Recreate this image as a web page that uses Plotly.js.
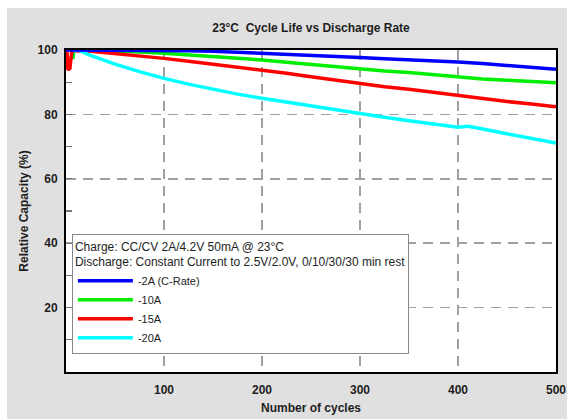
<!DOCTYPE html>
<html>
<head>
<meta charset="utf-8">
<script src="https://cdn.plot.ly/plotly-3.0.1.min.js"></script>
<style>
  html, body { margin: 0; padding: 0; background: #ffffff; }
  #chart { position: absolute; left: 7px; top: 8px; width: 560px; height: 411px; }
</style>
</head>
<body>
<div id="chart"></div>
<script>
// ---- data ----
const seriesNames = ["-2A (C-Rate)", "-10A", "-15A", "-20A"];
const seriesColors = ["#0000ff", "#00ee00", "#ff0000", "#00ffff"];

const cyclesBlue = [0, 25, 50, 75, 100, 125, 150, 175, 200, 225, 250, 275, 300, 325, 350, 375, 400, 425, 450, 475, 500];
const capBlue    = [100, 100, 100, 100, 99.9, 99.8, 99.6, 99.3, 99.1, 98.8, 98.5, 98.1, 97.7, 97.3, 97.0, 96.7, 96.3, 95.8, 95.2, 94.6, 94.0];

const cyclesGreen = [0, 6, 7, 8, 25, 50, 75, 100, 125, 150, 175, 200, 225, 250, 275, 300, 325, 350, 375, 400, 425, 450, 475, 500];
const capGreen    = [100, 100, 97.2, 100, 100, 99.8, 99.4, 99.0, 98.5, 98.0, 97.5, 96.9, 96.2, 95.5, 94.8, 94.1, 93.5, 93.0, 92.3, 91.5, 91.0, 90.6, 90.2, 89.8];

const cyclesRed = [1, 2, 4, 6, 25, 50, 75, 100, 125, 150, 175, 200, 225, 250, 275, 300, 325, 350, 375, 400, 425, 450, 475, 500];
const capRed    = [100, 93.8, 94.3, 99.8, 99.6, 98.9, 98.2, 97.4, 96.5, 95.6, 94.7, 93.8, 92.8, 91.7, 90.6, 89.5, 88.6, 87.8, 86.8, 85.8, 84.9, 84.0, 83.2, 82.4];

const cyclesCyan = [8, 12, 25, 50, 75, 100, 125, 150, 175, 200, 225, 250, 275, 300, 325, 350, 375, 400, 410, 420, 450, 475, 500];
const capCyan    = [99.6, 100, 98.3, 95.6, 93.3, 91.2, 89.4, 87.8, 86.3, 85.0, 83.8, 82.6, 81.3, 80.2, 79.1, 78.0, 77.0, 76.0, 76.3, 75.8, 74.0, 72.6, 71.1];

const xTickVals = [100, 200, 300, 400, 500];
const yLabelVals = [20, 40, 60, 80, 100];
const yAllTickVals = [10, 20, 30, 40, 50, 60, 70, 80, 90, 100];

const chartTitle = "23°C  Cycle Life vs Discharge Rate";
const xTitle = "Number of cycles";
const yTitle = "Relative Capacity (%)";
const legendHeader = "Charge: CC/CV 2A/4.2V 50mA @ 23°C<br>Discharge: Constant Current to 2.5V/2.0V, 0/10/30/30 min rest";

// ---- traces ----
const xs = [cyclesBlue, cyclesGreen, cyclesRed, cyclesCyan];
const ys = [capBlue, capGreen, capRed, capCyan];
const traces = xs.map((x, i) => ({
  type: "scatter",
  mode: "lines",
  x: x,
  y: ys[i],
  yaxis: i === 0 ? "y2" : "y",
  name: seriesNames[i],
  line: { color: seriesColors[i], width: 3.5 },
  hoverinfo: "skip"
}));

const FONT = "'Liberation Sans', Arial, sans-serif";
const TXT = "#1e1e1e";

const layout = {
  width: 560,
  height: 411,
  paper_bgcolor: "#e0e0e0",
  plot_bgcolor: "#ffffff",
  margin: { l: 59, r: 11, t: 42, b: 47, pad: 0 },
  font: { family: FONT, color: TXT, size: 12 },
  title: {
    text: "<b>" + chartTitle + "</b>",
    font: { family: FONT, size: 12, color: TXT },
    x: 0.5, xref: "paper", xanchor: "center",
    y: 1 - 20 / 411, yref: "container", yanchor: "middle"
  },
  xaxis: {
    range: [0, 500],
    tickvals: xTickVals,
    ticktext: xTickVals.map(v => "<b>" + v + "</b>"),
    ticks: "",
    ticklabelstandoff: 6,
    showgrid: true,
    gridcolor: "#a0a0a0",
    gridwidth: 1.5,
    griddash: "10px,7px",
    zeroline: false,
    showline: true,
    linecolor: "#000000",
    linewidth: 2,
    mirror: true,
    tickfont: { family: FONT, size: 12, color: TXT },
    title: { text: "<b>" + xTitle + "</b>", font: { family: FONT, size: 12, color: TXT }, standoff: 7 }
  },
  yaxis: {
    range: [0, 100],
    tickmode: "array",
    tickvals: yAllTickVals,
    ticktext: yAllTickVals.map(v => yLabelVals.includes(v) ? "<b>" + v + "</b>" : ""),
    ticks: "inside",
    ticklen: 6,
    tickwidth: 1.2,
    tickcolor: "#777777",
    ticklabelstandoff: 4,
    showgrid: false,
    zeroline: false,
    showline: true,
    linecolor: "#000000",
    linewidth: 2,
    mirror: true,
    tickfont: { family: FONT, size: 12, color: TXT },
    title: { text: "<b>" + yTitle + "</b>", font: { family: FONT, size: 12, color: TXT }, standoff: 6 }
  },
  yaxis2: {
    range: [0, 100],
    overlaying: "y",
    anchor: "x",
    side: "left",
    tickmode: "array",
    tickvals: yLabelVals,
    ticks: "",
    showticklabels: false,
    showgrid: true,
    gridcolor: "#a0a0a0",
    gridwidth: 1.5,
    griddash: "10px,7px",
    zeroline: false,
    showline: false
  },
  showlegend: true,
  legend: {
    x: 0.012, xanchor: "left",
    y: 0.4286, yanchor: "top",
    bgcolor: "#ffffff",
    bordercolor: "#888888",
    borderwidth: 1,
    itemwidth: 55,
    font: { family: FONT, size: 11, color: TXT },
    title: { text: legendHeader, font: { family: FONT, size: 12, color: TXT }, side: "top" },
    traceorder: "normal"
  }
};

Plotly.newPlot("chart", traces, layout, { displayModeBar: false, staticPlot: true });
</script>
</body>
</html>
